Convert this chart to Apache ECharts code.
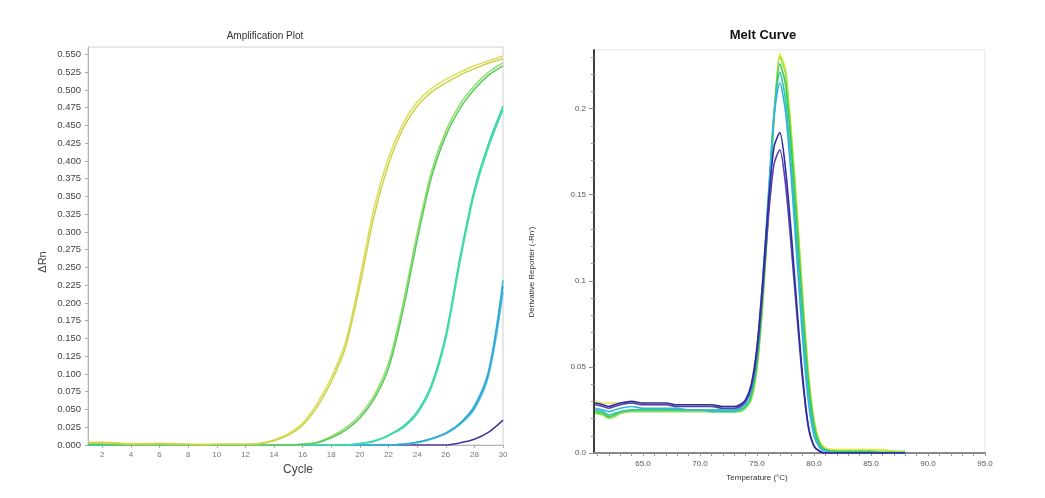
<!DOCTYPE html>
<html>
<head>
<meta charset="utf-8">
<script src="https://cdn.jsdelivr.net/npm/echarts@6/dist/echarts.min.js"></script>
<style>html,body{margin:0;padding:0;background:#fff}#c{width:1045px;height:498px}</style>
</head>
<body>
<div id="c"></div>
<script>
// ---------- Amplification plot data ----------
const cycles = [1,2,3,4,5,6,7,8,9,10,11,12,13,14,15,16,17,18,19,20,21,22,23,24,25,26,27,28,29,30];
const cycleTicks = [2,4,6,8,10,12,14,16,18,20,22,24,26,28,30];
const rnTicks = [0,0.025,0.05,0.075,0.1,0.125,0.15,0.175,0.2,0.225,0.25,0.275,0.3,0.325,0.35,0.375,0.4,0.425,0.45,0.475,0.5,0.525,0.55];

const ampYellowA = [0.004,0.004,0.003,0.002,0.002,0.002,0.002,0.001,0.001,0.001,0.001,0.001,0.002,0.007,0.016,0.031,0.058,0.095,0.145,0.235,0.335,0.405,0.452,0.483,0.502,0.515,0.525,0.534,0.541,0.548];
const ampYellowB = [0.003,0.003,0.002,0.001,0.001,0.002,0.001,0.001,0.000,0.001,0.001,0.001,0.002,0.006,0.014,0.028,0.053,0.089,0.138,0.225,0.323,0.395,0.445,0.477,0.497,0.510,0.521,0.530,0.538,0.544];
const ampGreenA  = [0.001,0.001,0.001,0.001,0.000,0.000,0.000,0.000,0.000,0.000,0.000,0.000,0.000,0.000,0.000,0.001,0.004,0.012,0.024,0.042,0.070,0.115,0.198,0.298,0.385,0.442,0.480,0.506,0.525,0.538];
const ampGreenB  = [0.001,0.001,0.000,0.000,0.000,0.000,0.000,0.000,0.000,0.000,0.000,0.000,0.000,0.000,0.000,0.001,0.003,0.010,0.021,0.038,0.065,0.108,0.188,0.288,0.377,0.435,0.474,0.501,0.521,0.534];
const ampTealA   = [0.000,0.000,0.000,0.000,0.000,0.000,0.000,0.000,0.000,0.000,0.000,0.000,0.000,0.000,0.000,0.000,0.000,0.000,0.000,0.002,0.006,0.014,0.026,0.047,0.085,0.155,0.265,0.360,0.425,0.477];
const ampTealB   = [0.000,0.000,0.000,0.000,0.000,0.000,0.000,0.000,0.000,0.000,0.000,0.000,0.000,0.000,0.000,0.000,0.000,0.000,0.000,0.002,0.005,0.013,0.024,0.044,0.081,0.149,0.258,0.354,0.420,0.472];
const ampCyanA   = [0.000,0.000,0.000,0.000,0.000,0.000,0.000,0.000,0.000,0.000,0.000,0.000,0.000,0.000,0.000,0.000,0.000,0.000,0.000,0.000,0.000,0.000,0.001,0.004,0.009,0.017,0.031,0.055,0.105,0.232];
const ampCyanB   = [0.000,0.000,0.000,0.000,0.000,0.000,0.000,0.000,0.000,0.000,0.000,0.000,0.000,0.000,0.000,0.000,0.000,0.000,0.000,0.000,0.000,0.000,0.001,0.003,0.008,0.016,0.029,0.050,0.098,0.215];
const ampCyanC   = [0.000,0.000,0.000,0.000,0.000,0.000,0.000,0.000,0.000,0.000,0.000,0.000,0.000,0.000,0.000,0.000,0.000,0.000,0.000,0.000,0.000,0.000,0.001,0.004,0.009,0.016,0.030,0.053,0.102,0.224];
const ampPurple  = [0.000,0.000,0.000,0.000,0.000,0.000,0.000,0.000,0.000,0.000,0.000,0.000,0.000,0.000,0.000,0.000,0.000,0.000,0.000,0.000,0.000,0.000,0.000,0.000,0.000,0.000,0.003,0.008,0.018,0.035];

// ---------- Melt curve data ----------
const temps = [60.8,61.5,62,62.5,63,64,65,66,67,68,69,70,71,72,73,73.5,74,74.5,75,75.5,76,76.5,77,77.5,78,78.5,79,79.5,80,80.5,81,82,83,84,85,86,87,88];
const tempLabels = [65,70,75,80,85,90,95];
const tempTicks = [61,62,63,64,65,66,67,68,69,70,71,72,73,74,75,76,77,78,79,80,81,82,83,84,85,86,87,88,89,90,91,92,93,94,95];
const derivLabels = [0,0.05,0.1,0.15,0.2];
const derivTicks = [0.01,0.02,0.03,0.04,0.06,0.07,0.08,0.09,0.11,0.12,0.13,0.14,0.16,0.17,0.18,0.19,0.21,0.22,0.23];

const meltYellow = [0.030,0.029,0.029,0.029,0.029,0.029,0.029,0.028,0.028,0.028,0.028,0.028,0.027,0.027,0.027,0.027,0.028,0.032,0.050,0.087,0.140,0.196,0.232,0.223,0.188,0.143,0.093,0.048,0.020,0.007,0.003,0.002,0.002,0.002,0.002,0.002,0.001,0.000];
const meltLime   = [0.023,0.022,0.020,0.021,0.023,0.024,0.024,0.024,0.024,0.024,0.024,0.024,0.024,0.024,0.024,0.024,0.026,0.031,0.049,0.086,0.138,0.194,0.230,0.220,0.185,0.140,0.090,0.046,0.018,0.006,0.002,0.001,0.001,0.001,0.001,0.001,0.001,0.001];
const meltGreen  = [0.024,0.023,0.021,0.022,0.024,0.025,0.025,0.025,0.025,0.025,0.025,0.025,0.025,0.025,0.025,0.025,0.027,0.033,0.052,0.090,0.142,0.196,0.226,0.214,0.178,0.132,0.084,0.042,0.016,0.005,0.002,0.001,0.001,0.001,0.001,0.000,0.000,0.000];
const meltTeal   = [0.025,0.024,0.022,0.023,0.024,0.025,0.025,0.025,0.025,0.025,0.025,0.025,0.024,0.024,0.024,0.025,0.027,0.035,0.056,0.096,0.148,0.198,0.221,0.205,0.168,0.122,0.075,0.036,0.013,0.004,0.001,0.000,0.000,0.000,0.000,0.000,0.000,0.000];
const meltCyan   = [0.026,0.025,0.024,0.025,0.026,0.027,0.026,0.026,0.026,0.026,0.025,0.025,0.025,0.025,0.025,0.026,0.029,0.038,0.060,0.100,0.150,0.196,0.215,0.198,0.160,0.113,0.066,0.030,0.010,0.003,0.001,0.000,0.000,0.000,0.000,0.000,0.000,0.000];
const meltNavy   = [0.029,0.028,0.027,0.028,0.029,0.030,0.029,0.029,0.029,0.028,0.028,0.028,0.028,0.027,0.027,0.028,0.031,0.040,0.062,0.100,0.145,0.178,0.186,0.165,0.128,0.085,0.045,0.016,0.004,0.001,0.000,0.000,0.000,0.000,0.000,0.000,0.000,0.000];
const meltPurple = [0.028,0.027,0.026,0.027,0.028,0.029,0.028,0.028,0.028,0.027,0.027,0.027,0.027,0.026,0.026,0.027,0.030,0.038,0.058,0.094,0.137,0.168,0.176,0.156,0.120,0.080,0.042,0.015,0.004,0.001,0.000,0.000,0.000,0.000,0.000,0.000,0.000,0.000];

const zip = (xs, ys) => xs.map((x, i) => [x, ys[i]]);
const FONT = 'Liberation Sans, Arial, sans-serif';

function ampLine(vals, color) {
  return { type: 'line', xAxisIndex: 0, yAxisIndex: 0, data: zip(cycles, vals), showSymbol: false, smooth: 0.3,
    lineStyle: { color: color, width: 1.5 }, silent: true, animation: false };
}
function meltLine(vals, color) {
  return { type: 'line', xAxisIndex: 1, yAxisIndex: 2, data: zip(temps, vals), showSymbol: false, smooth: 0.25,
    lineStyle: { color: color, width: 1.6 }, silent: true, animation: false };
}

const chart = echarts.init(document.getElementById('c'), null, { renderer: 'canvas' });
chart.setOption({
  backgroundColor: '#fff',
  animation: false,
  textStyle: { fontFamily: FONT },
  grid: [
    { left: 88, top: 47, width: 415, height: 398, show: true, borderColor: '#cfcfcf', borderWidth: 1 },
    { left: 594, top: 50, width: 391, height: 403, show: true, borderColor: '#e2e2e2', borderWidth: 1 }
  ],
  xAxis: [
    { gridIndex: 0, type: 'value', min: 1, max: 30, position: 'bottom',
      axisLine: { show: true, lineStyle: { color: '#b5b5b5' } },
      axisTick: { show: true, length: 3, customValues: cycleTicks, lineStyle: { color: '#aaa' } },
      axisLabel: { customValues: cycleTicks, fontSize: 8, color: '#777', margin: 6 },
      splitLine: { show: false } },
    { gridIndex: 1, type: 'value', min: 60.7, max: 95, position: 'bottom',
      axisLine: { show: true, lineStyle: { color: '#999', width: 1 } },
      axisTick: { show: true, length: 3, customValues: tempTicks, lineStyle: { color: '#999' } },
      axisLabel: { customValues: tempLabels, fontSize: 8, color: '#555', margin: 7, formatter: v => v.toFixed(1) },
      splitLine: { show: false } },
    { gridIndex: 1, type: 'value', min: 60.7, max: 95, position: 'top',
      axisLine: { show: true, lineStyle: { color: '#8a8a8a', width: 2 } },
      axisTick: { show: false }, axisLabel: { show: false }, splitLine: { show: false } }
  ],
  yAxis: [
    { gridIndex: 0, type: 'value', min: 0, max: 0.5605, position: 'left',
      axisLine: { show: true, lineStyle: { color: '#b5b5b5' } },
      axisTick: { show: true, length: 3, customValues: rnTicks, lineStyle: { color: '#aaa' } },
      axisLabel: { customValues: rnTicks, fontSize: 9.5, color: '#444', margin: 7, formatter: v => v.toFixed(3) },
      splitLine: { show: false } },
    { gridIndex: 1, type: 'value', min: 0, max: 0.234, position: 'left', offset: 0,
      axisLine: { show: true, lineStyle: { color: '#333', width: 1.5 } },
      axisTick: { show: true, length: 3, customValues: derivTicks, lineStyle: { color: '#999' } },
      axisLabel: { show: false }, splitLine: { show: false } },
    { gridIndex: 1, type: 'value', min: 0, max: 0.234, position: 'left', offset: 0,
      axisLine: { show: true, lineStyle: { color: '#333', width: 1.5 } },
      axisTick: { show: true, length: 5, customValues: derivLabels, lineStyle: { color: '#888' } },
      axisLabel: { customValues: derivLabels, fontSize: 8, color: '#555', margin: 8,
        formatter: v => (v === 0 ? '0.0' : String(+v.toFixed(2))) },
      splitLine: { show: false } }
  ],
  graphic: [
    { type: 'text', style: { text: 'Amplification Plot', font: '10px ' + FONT, fill: '#333', x: 265, y: 36, align: 'center', verticalAlign: 'middle' } },
    { type: 'text', style: { text: 'Cycle', font: '12px ' + FONT, fill: '#444', x: 298, y: 470, align: 'center', verticalAlign: 'middle' } },
    { type: 'text', rotation: Math.PI / 2, x: 43, y: 262, style: { text: 'ΔRn', font: '11px ' + FONT, fill: '#444', align: 'center', verticalAlign: 'middle' } },
    { type: 'text', style: { text: 'Melt Curve', font: 'bold 13px ' + FONT, fill: '#111', x: 763, y: 35, align: 'center', verticalAlign: 'middle' } },
    { type: 'text', style: { text: 'Temperature (°C)', font: '8px ' + FONT, fill: '#333', x: 757, y: 478, align: 'center', verticalAlign: 'middle' } },
    { type: 'text', rotation: Math.PI / 2, x: 532, y: 272, style: { text: "Derivative Reporter (-Rn')", font: '8px ' + FONT, fill: '#333', align: 'center', verticalAlign: 'middle' } }
  ],
  series: [
    ampLine(ampPurple, '#4b2f9e'),
    ampLine(ampCyanA, '#3cb4dc'),
    ampLine(ampCyanB, '#56c6e6'),
    ampLine(ampCyanC, '#2fa8d4'),
    ampLine(ampTealA, '#2fd2a2'),
    ampLine(ampTealB, '#45dcae'),
    ampLine(ampGreenA, '#92dc6a'),
    ampLine(ampGreenB, '#55cb5c'),
    ampLine(ampYellowA, '#dcdc5a'),
    ampLine(ampYellowB, '#cfd048'),
    meltLine(meltYellow, '#e6e64a'),
    meltLine(meltLime, '#8fe04c'),
    meltLine(meltGreen, '#3ccc4c'),
    meltLine(meltTeal, '#2ec8a0'),
    meltLine(meltCyan, '#38b2e4'),
    meltLine(meltPurple, '#5a3fb2'),
    meltLine(meltNavy, '#2a2e9e')
  ]
});
</script>
</body>
</html>
